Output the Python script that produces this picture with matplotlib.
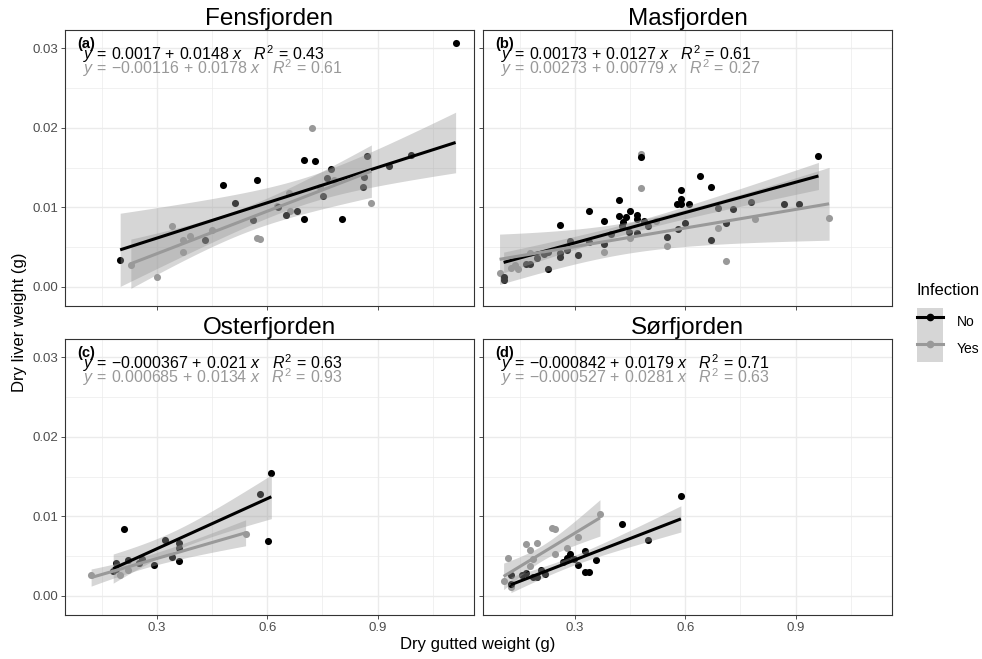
import numpy as np
import matplotlib
matplotlib.use('Agg')
import matplotlib.pyplot as plt
from matplotlib.lines import Line2D
from matplotlib.patches import Patch
from matplotlib.legend_handler import HandlerTuple

plt.rcParams['font.family'] = ['Liberation Sans', 'DejaVu Sans']
plt.rcParams['mathtext.fontset'] = 'custom'
plt.rcParams['mathtext.rm'] = 'Liberation Sans'
plt.rcParams['mathtext.it'] = 'Liberation Sans:italic'

# facet names and tags
fjords = ['Fensfjorden', 'Masfjorden', 'Osterfjorden', 'Sørfjorden']
tags = ['(a)', '(b)', '(c)', '(d)']

# points: (dry gutted weight, dry liver weight)
no_x = [
    [1.112, 0.200, 0.430, 0.480, 0.511, 0.562, 0.571, 0.630, 0.652, 0.681, 0.700, 0.701,
     0.731, 0.751, 0.761, 0.772, 0.802, 0.861, 0.862, 0.872, 0.931, 0.990],
    [0.962, 0.479, 0.639, 0.669, 0.589, 0.589, 0.578, 0.589, 0.609, 0.419, 0.337, 0.378,
     0.419, 0.439, 0.449, 0.469, 0.431, 0.469, 0.489, 0.258, 0.228, 0.106, 0.106, 0.428,
     0.448, 0.469, 0.499, 0.398, 0.378, 0.337, 0.287, 0.278, 0.258, 0.258, 0.307, 0.228,
     0.217, 0.197, 0.168, 0.177, 0.549, 0.579, 0.599, 0.689, 0.669, 0.710, 0.730, 0.780,
     0.869, 0.910],
    [0.611, 0.580, 0.601, 0.211, 0.321, 0.361, 0.361, 0.361, 0.341, 0.291, 0.260, 0.251,
     0.220, 0.190, 0.181, 0.190],
    [0.588, 0.429, 0.499, 0.357, 0.328, 0.328, 0.339, 0.308, 0.287, 0.278, 0.268, 0.297,
     0.218, 0.208, 0.197, 0.187, 0.167, 0.157, 0.127, 0.126],
]
no_y = [
    [0.0307, 0.0034, 0.0059, 0.0128, 0.0106, 0.0084, 0.0134, 0.0101, 0.0090, 0.0096, 0.0160, 0.0085,
     0.0158, 0.0114, 0.0137, 0.0148, 0.0086, 0.0125, 0.0138, 0.0165, 0.0152, 0.0166],
    [0.0165, 0.0163, 0.0139, 0.0125, 0.0122, 0.0111, 0.0104, 0.0104, 0.0104, 0.0109, 0.0095, 0.0083,
     0.0089, 0.0088, 0.0095, 0.0091, 0.0082, 0.0085, 0.0083, 0.0078, 0.0023, 0.0009, 0.0013, 0.0077,
     0.0069, 0.0068, 0.0076, 0.0066, 0.0054, 0.0057, 0.0058, 0.0046, 0.0043, 0.0038, 0.0040, 0.0044,
     0.0042, 0.0036, 0.0029, 0.0029, 0.0063, 0.0073, 0.0080, 0.0099, 0.0059, 0.0080, 0.0098, 0.0107,
     0.0104, 0.0104],
    [0.0154, 0.0128, 0.0069, 0.0084, 0.0070, 0.0067, 0.0060, 0.0044, 0.0049, 0.0039, 0.0047, 0.0041,
     0.0045, 0.0042, 0.0031, 0.0034],
    [0.0125, 0.0090, 0.0070, 0.0045, 0.0056, 0.0030, 0.0030, 0.0039, 0.0053, 0.0048, 0.0043, 0.0046,
     0.0028, 0.0033, 0.0024, 0.0024, 0.0029, 0.0026, 0.0015, 0.0026],
]
yes_x = [
    [0.229, 0.300, 0.341, 0.372, 0.372, 0.391, 0.450, 0.571, 0.581, 0.627, 0.658, 0.661,
     0.722, 0.743, 0.781, 0.883],
    [0.479, 0.479, 0.095, 0.519, 0.378, 0.449, 0.197, 0.177, 0.126, 0.136, 0.146, 0.549,
     0.689, 0.710, 0.790, 0.991],
    [0.541, 0.221, 0.200, 0.121, 0.250],
    [0.368, 0.237, 0.247, 0.167, 0.197, 0.177, 0.308, 0.278, 0.247, 0.187, 0.117, 0.177,
     0.106, 0.127],
]
yes_y = [
    [0.0027, 0.0013, 0.0076, 0.0059, 0.0044, 0.0064, 0.0071, 0.0061, 0.0060, 0.0102, 0.0118, 0.0096,
     0.0200, 0.0126, 0.0135, 0.0106],
    [0.0167, 0.0124, 0.0018, 0.0083, 0.0044, 0.0061, 0.0041, 0.0043, 0.0024, 0.0027, 0.0022, 0.0051,
     0.0074, 0.0032, 0.0086, 0.0087],
    [0.0078, 0.0032, 0.0026, 0.0026, 0.0042],
    [0.0103, 0.0086, 0.0084, 0.0065, 0.0066, 0.0058, 0.0074, 0.0060, 0.0053, 0.0046, 0.0048, 0.0037,
     0.0019, 0.0011],
]

# fitted equations shown in each panel
no_eq = [r'$y\,=\,0.0017\,+\,0.0148\ x\quad R^2\,=\,0.43$',
         r'$y\,=\,0.00173\,+\,0.0127\ x\quad R^2\,=\,0.61$',
         r'$y\,=\,{−}0.000367\,+\,0.021\ x\quad R^2\,=\,0.63$',
         r'$y\,=\,{−}0.000842\,+\,0.0179\ x\quad R^2\,=\,0.71$']
yes_eq = [r'$y\,=\,{−}0.00116\,+\,0.0178\ x\quad R^2\,=\,0.61$',
          r'$y\,=\,0.00273\,+\,0.00779\ x\quad R^2\,=\,0.27$',
          r'$y\,=\,0.000685\,+\,0.0134\ x\quad R^2\,=\,0.93$',
          r'$y\,=\,{−}0.000527\,+\,0.0281\ x\quad R^2\,=\,0.63$']
no_coef = [(0.0017, 0.0148), (0.00173, 0.0127), (-0.000367, 0.021), (-0.000842, 0.0179)]
yes_coef = [(-0.00116, 0.0178), (0.00273, 0.00779), (0.000685, 0.0134), (-0.000527, 0.0281)]

BLACK = '#000000'
GREY = '#999999'
RIBBON = '#999999'


def t_crit(df):
    # Cornish-Fisher approximation of the 97.5% t quantile
    z = 1.959964
    return z + (z**3 + z) / (4 * df) + (5 * z**5 + 16 * z**3 + 3 * z) / (96 * df**2)


def draw_smooth(ax, x, y, coef, color):
    x = np.asarray(x)
    y = np.asarray(y)
    a, b = coef
    n = len(x)
    resid = y - (a + b * x)
    s = np.sqrt(np.sum(resid**2) / (n - 2))
    xbar = x.mean()
    sxx = np.sum((x - xbar)**2)
    xs = np.linspace(x.min(), x.max(), 80)
    fit = a + b * xs
    se = s * np.sqrt(1 / n + (xs - xbar)**2 / sxx)
    t = t_crit(n - 2)
    ax.fill_between(xs, fit - t * se, fit + t * se, color=RIBBON, alpha=0.4, lw=0, zorder=3)
    ax.plot(xs, fit, color=color, lw=2.2, zorder=4, solid_capstyle='butt')


fig = plt.figure(figsize=(9.82, 6.59), dpi=100)


def box(l, t, r, b):
    return [l / 982, 1 - b / 659, (r - l) / 982, (b - t) / 659]


boxes = [box(65, 30, 474, 306), box(483, 30, 892, 306),
         box(65, 339, 474, 615), box(483, 339, 892, 615)]

for i in range(4):
    ax = fig.add_axes(boxes[i])
    ax.set_xlim(0.05, 1.162)
    ax.set_ylim(-0.0024, 0.0323)
    ax.set_xticks([0.3, 0.6, 0.9])
    ax.set_yticks([0.0, 0.01, 0.02, 0.03])
    ax.set_xticks([0.15, 0.45, 0.75, 1.05], minor=True)
    ax.set_yticks([0.005, 0.015, 0.025], minor=True)
    ax.grid(True, which='major', color='#ebebeb', lw=1.0, zorder=0)
    ax.grid(True, which='minor', color='#ebebeb', lw=0.5, zorder=0)
    ax.set_axisbelow(True)
    for sp in ax.spines.values():
        sp.set_color('#333333')
        sp.set_linewidth(0.8)
    ax.tick_params(which='major', length=3, width=0.6, color='#333333',
                   labelsize=9.5, labelcolor='#4d4d4d', pad=2)
    ax.tick_params(which='minor', length=0)
    ax.set_xticklabels(['0.3', '0.6', '0.9'])
    ax.set_yticklabels(['0.00', '0.01', '0.02', '0.03'])
    if i in (0, 1):
        ax.tick_params(axis='x', labelbottom=False)
    if i in (1, 3):
        ax.tick_params(axis='y', labelleft=False)

    ax.scatter(yes_x[i], yes_y[i], s=26, color=GREY, lw=0, zorder=2)
    ax.scatter(no_x[i], no_y[i], s=26, color=BLACK, lw=0, zorder=2)
    draw_smooth(ax, no_x[i], no_y[i], no_coef[i], BLACK)
    draw_smooth(ax, yes_x[i], yes_y[i], yes_coef[i], GREY)

    ax.set_title(fjords[i], fontsize=17.5, pad=1)
    ax.text(0.029, 0.95, tags[i], transform=ax.transAxes, fontsize=10.5,
            fontweight='bold', va='center', ha='left', zorder=6)
    ax.text(0.045, 0.912, no_eq[i], transform=ax.transAxes, fontsize=11.5,
            color=BLACK, va='center', ha='left', zorder=6)
    ax.text(0.045, 0.862, yes_eq[i], transform=ax.transAxes, fontsize=11.5,
            color=GREY, va='center', ha='left', zorder=6)

fig.text(20 / 982, 1 - 322 / 659, 'Dry liver weight (g)', rotation=90,
         fontsize=12, ha='center', va='center')
fig.text(478 / 982, 1 - 644 / 659, 'Dry gutted weight (g)',
         fontsize=12, ha='center', va='center')

# legend: title as its own text, keys below it
fig.text(917 / 982, 1 - 291 / 659, 'Infection', fontsize=12, ha='left', va='center')
handles = [
    (Patch(facecolor='#d6d6d6', edgecolor='none'),
     Line2D([], [], color=BLACK, lw=2.2, marker='o', markersize=4.5)),
    (Patch(facecolor='#d6d6d6', edgecolor='none'),
     Line2D([], [], color=GREY, lw=2.2, marker='o', markersize=4.5)),
]
fig.legend(handles, ['No', 'Yes'], loc='upper left',
           bbox_to_anchor=(917 / 982, 1 - 308 / 659), frameon=False,
           handler_map={tuple: HandlerTuple(ndivide=1, pad=0)},
           fontsize=10, handlelength=1.85, handleheight=2.6,
           labelspacing=0.0, handletextpad=1.0, borderpad=0, borderaxespad=0)

fig.savefig('out.png', dpi=100)
